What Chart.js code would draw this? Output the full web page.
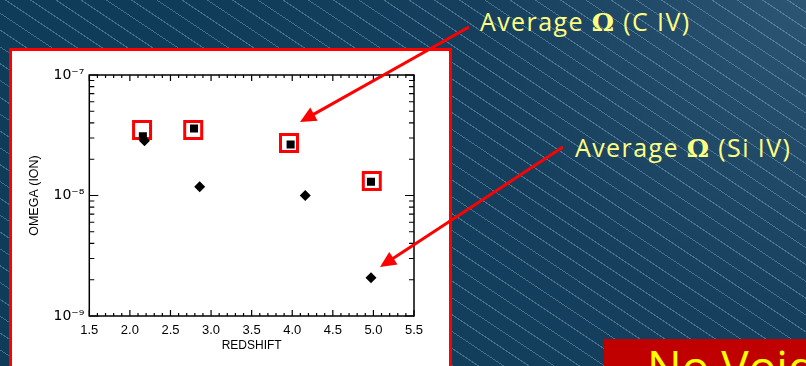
<!DOCTYPE html>
<html>
<head>
<meta charset="utf-8">
<script src="https://cdn.jsdelivr.net/npm/chart.js@4"></script>
<style>
  html, body { margin: 0; padding: 0; }
  body {
    width: 806px; height: 366px; overflow: hidden; position: relative;
    background:
      repeating-linear-gradient(33.7deg, rgba(0,0,0,0) 0px, rgba(0,0,0,0) 13px, rgba(150,190,210,0.38) 13px, rgba(150,190,210,0.38) 14px),
      radial-gradient(circle at 100% 0%, #2c5574 0px, #163f5e 330px, #0f3c59 620px);
  }
  #panel {
    position: absolute; left: 9px; top: 48px; width: 437px; height: 340px;
    background: #fff; border: 3px solid #ff0000;
  }
  #chartBox { position: absolute; left: 0; top: 0; width: 437px; height: 315px; }
  .note {
    position: absolute; color: #ffff80; font-family: "Comic Sans MS", "Open Sans", sans-serif;
    font-size: 25px; letter-spacing: 1.4px; white-space: nowrap; line-height: 25px;
  }
  .note b { font-family: "DejaVu Serif", serif; font-weight: bold; }
  #noVoid {
    position: absolute; left: 604px; top: 339px; width: 240px; height: 60px;
    background: #c00000; overflow: hidden;
  }
  #noVoid span {
    position: absolute; left: 43px; top: 4px; color: #ffff00;
    font-family: "Comic Sans MS", "Open Sans", sans-serif; font-size: 46px; line-height: 46px; white-space: nowrap;
  }
  svg { position: absolute; left: 0; top: 0; }
</style>
</head>
<body>
<div id="panel"><div id="chartBox"><canvas id="omegaChart"></canvas></div></div>
<div class="note" style="left:480px; top:9px;">Average <b>Ω</b> (C IV)</div>
<div class="note" style="left:575px; top:135px;">Average <b>Ω</b> (Si IV)</div>
<div id="noVoid"><span>No Voids</span></div>
<svg id="arrows" width="806" height="366"></svg>
<script>
// redshift / omega
const civRedshift = [2.16, 2.79, 3.98, 4.97];
const civOmega = [3.1e-8, 3.6e-8, 2.65e-8, 1.3e-8];
const siivRedshift = [2.18, 2.86, 4.16, 4.97];
const siivOmega = [2.85e-8, 1.18e-8, 1.0e-8, 2.08e-9];
// red boxes drawn round the C IV averages
const boxRedshift = [2.15, 2.78, 3.96, 4.98];
const boxOmega = [3.5e-8, 3.5e-8, 2.73e-8, 1.32e-8];

const xTickLabels = ['1.5', '2.0', '2.5', '3.0', '3.5', '4.0', '4.5', '5.0', '5.5'];
const yTickLabels = ['10⁻⁹', '10⁻⁸', '10⁻⁷'];

function toPoints(xs, ys) {
    return xs.map((x, i) => ({ x: x, y: ys[i] }));
}

// inward ticks on all four sides, like the IDL plot
const frameTicks = {
    id: 'frameTicks',
    afterDraw(chart) {
        const { ctx, chartArea: a, scales } = chart;
        ctx.save();
        ctx.strokeStyle = '#000';
        ctx.lineWidth = 1.5;
        ctx.strokeRect(a.left, a.top, a.right - a.left, a.bottom - a.top);
        ctx.lineWidth = 1.2;
        ctx.beginPath();
        for (let k = 15; k <= 55; k++) {
            const px = scales.x.getPixelForValue(k / 10);
            const len = k % 5 === 0 ? 6 : 3;
            ctx.moveTo(px, a.bottom); ctx.lineTo(px, a.bottom - len);
            ctx.moveTo(px, a.top); ctx.lineTo(px, a.top + len);
        }
        for (let e = -9; e <= -7; e++) {
            for (let m = 1; m <= 9; m++) {
                if (e === -7 && m > 1) break;
                const py = scales.y.getPixelForValue(m * Math.pow(10, e));
                const len = m === 1 ? 9 : 5;
                ctx.moveTo(a.left, py); ctx.lineTo(a.left + len, py);
                ctx.moveTo(a.right, py); ctx.lineTo(a.right - len, py);
            }
        }
        ctx.stroke();
        ctx.restore();
    }
};

function renderChart() {
    const ctx = document.getElementById('omegaChart').getContext('2d');
    new Chart(ctx, {
        type: 'scatter',
        data: {
            datasets: [
                {
                    label: 'Si IV',
                    data: toPoints(siivRedshift, siivOmega),
                    pointStyle: 'rectRot',
                    pointRadius: 5.5,
                    backgroundColor: '#000',
                    borderWidth: 0,
                    order: 1
                },
                {
                    label: 'C IV',
                    data: toPoints(civRedshift, civOmega),
                    pointStyle: 'rect',
                    pointRadius: 5.7,
                    backgroundColor: '#000',
                    borderWidth: 0,
                    order: 2
                },
                {
                    label: 'highlight',
                    data: toPoints(boxRedshift, boxOmega),
                    pointStyle: 'rect',
                    pointRadius: 12,
                    backgroundColor: 'rgba(0,0,0,0)',
                    borderColor: '#ff0000',
                    borderWidth: 3,
                    order: 3
                }
            ]
        },
        options: {
            responsive: true,
            maintainAspectRatio: false,
            animation: false,
            layout: { padding: { left: 15, right: 35, top: 24, bottom: 10 } },
            plugins: { legend: { display: false }, tooltip: { enabled: false } },
            scales: {
                x: {
                    type: 'linear',
                    min: 1.5,
                    max: 5.5,
                    grid: { display: false, drawTicks: false },
                    border: { display: false },
                    ticks: {
                        stepSize: 0.5,
                        autoSkip: false,
                        maxRotation: 0,
                        padding: 7,
                        color: '#000',
                        font: { family: 'Liberation Sans', size: 13 },
                        callback: v => xTickLabels[Math.round((v - 1.5) * 2)]
                    },
                    title: {
                        display: true,
                        text: 'REDSHIFT',
                        color: '#000',
                        font: { family: 'Liberation Sans', size: 12 },
                        padding: { top: 0, bottom: 3 }
                    },
                    afterFit: s => { s.height = 40; }
                },
                y: {
                    type: 'logarithmic',
                    min: 1e-9,
                    max: 1e-7,
                    grid: { display: false, drawTicks: false },
                    border: { display: false },
                    ticks: {
                        autoSkip: false,
                        padding: 5,
                        color: '#000',
                        font: { family: 'DejaVu Sans', size: 14 },
                        callback: v => {
                            const e = Math.round(Math.log10(v));
                            if (Math.abs(v - Math.pow(10, e)) > v * 1e-6) return '';
                            return yTickLabels[e + 9];
                        }
                    },
                    title: {
                        display: true,
                        text: 'OMEGA (ION)',
                        color: '#000',
                        font: { family: 'Liberation Sans', size: 12.5 },
                        padding: { top: 0, bottom: 0 }
                    },
                    afterFit: s => { s.width = 62.3; }
                }
            }
        },
        plugins: [frameTicks]
    });
}

function drawArrow(svg, x1, y1, x2, y2) {
    const dx = x2 - x1, dy = y2 - y1;
    const len = Math.hypot(dx, dy);
    const ux = dx / len, uy = dy / len;
    const headLen = 16, halfW = 7.5;
    const bx = x2 - ux * headLen, by = y2 - uy * headLen;
    const ns = 'http://www.w3.org/2000/svg';
    const line = document.createElementNS(ns, 'line');
    line.setAttribute('x1', x1); line.setAttribute('y1', y1);
    line.setAttribute('x2', bx + ux * 2); line.setAttribute('y2', by + uy * 2);
    line.setAttribute('stroke', '#ff0000'); line.setAttribute('stroke-width', 3);
    svg.appendChild(line);
    const head = document.createElementNS(ns, 'polygon');
    head.setAttribute('points', [
        x2 + ',' + y2,
        (bx - uy * halfW) + ',' + (by + ux * halfW),
        (bx + uy * halfW) + ',' + (by - ux * halfW)
    ].join(' '));
    head.setAttribute('fill', '#ff0000');
    svg.appendChild(head);
}

window.onload = () => {
    renderChart();
    const svg = document.getElementById('arrows');
    drawArrow(svg, 469, 27, 300, 122);
    drawArrow(svg, 563, 147, 380, 267);
};
</script>
</body>
</html>
